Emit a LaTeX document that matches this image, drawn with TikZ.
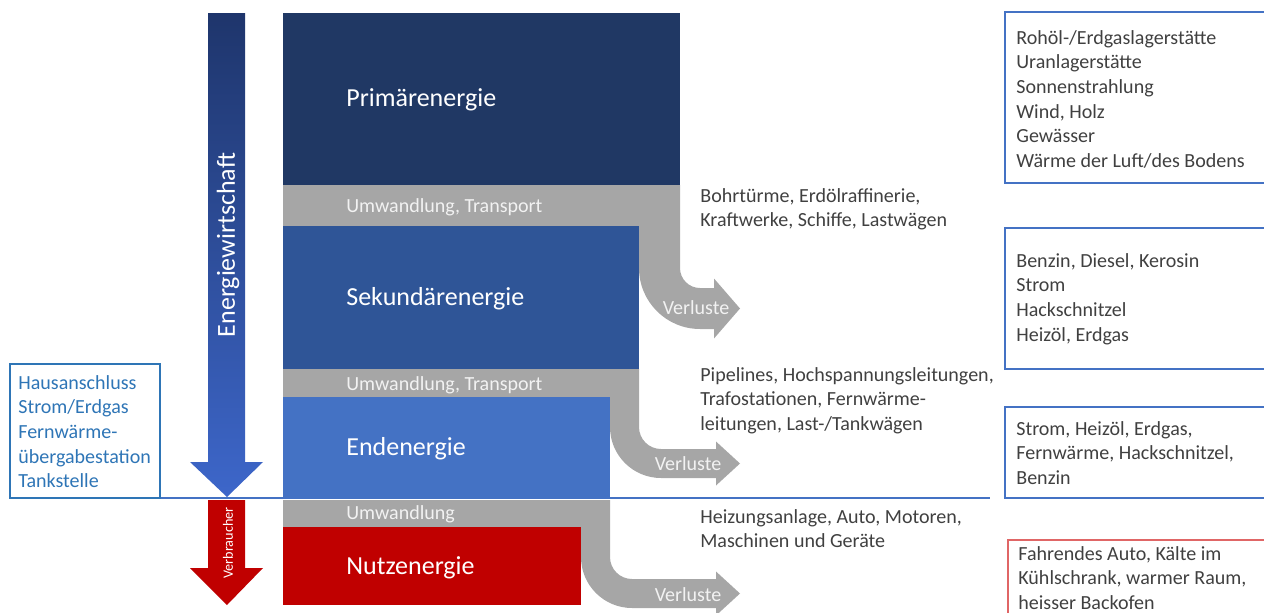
\documentclass[tikz,border=0pt]{standalone}
\usepackage{fontspec}
\setmainfont{Carlito}
\definecolor{primcol}{HTML}{203864}
\definecolor{sekcol}{HTML}{2F5597}
\definecolor{endcol}{HTML}{4472C4}
\definecolor{nutzcol}{HTML}{C00000}
\definecolor{bandgray}{HTML}{A6A6A6}
\definecolor{bandtxt}{HTML}{F2F2F2}
\definecolor{infotxt}{HTML}{404040}
\definecolor{hausblue}{HTML}{2E75B6}
\definecolor{boxred}{HTML}{E06666}
\begin{document}
\begin{tikzpicture}[x=0.02cm,y=-0.02cm,
    title/.style={anchor=west,inner sep=0pt,text=white,font=\fontsize{14.8}{17}\selectfont},
    bandlabel/.style={anchor=west,inner sep=0pt,text=bandtxt,font=\fontsize{11.4}{14}\selectfont},
    info/.style={anchor=north west,inner sep=0pt,align=left,text=infotxt,font=\fontsize{11.4}{14}\selectfont}]
    \clip (0,0) rectangle (1264,612);
    % Energiestufen
    \fill[primcol] (283,13) rectangle (680,185);
    \fill[sekcol] (283,226) rectangle (639,369);
    \fill[endcol] (283,397) rectangle (610,499);
    \fill[nutzcol] (283,527) rectangle (581,605);
    \fill[bandgray] (283,185) rectangle (680,226);
    \fill[bandgray] (283,369) rectangle (639,397);
    \fill[bandgray] (283,500) rectangle (610,527);
    \foreach \a/\b/\ya/\yb/\r/\hx/\hh in {639/680/185/268/20/714/30, 610/639/369/427/22/716/22, 581/610/500/557/22/716/22}{
        \pgfmathsetmacro\w{\b-\a}
        \pgfmathsetmacro\cx{\b+\r}
        \pgfmathsetmacro\yt{\yb+\r}
        \pgfmathsetmacro\ybot{\yt+\w}
        \pgfmathsetmacro\hc{\yt+\w/2}
        \pgfmathsetmacro\ro{\r+\w}
        \fill[bandgray] (\a,\ya) -- (\b,\ya) -- (\b,\yb) arc[start angle=180,end angle=90,radius=\r] -- (\hx,\yt) -- (\hx,\hc-\hh) -- (740,\hc) -- (\hx,\hc+\hh) -- (\hx,\ybot) -- (\cx,\ybot) arc[start angle=90,end angle=180,radius=\ro] -- cycle;
    }
    \node[title] (prim) at (346,100) {Primärenergie};
    \node[title] (sek) at (346,299) {Sekundärenergie};
    \node[title] (end) at (346,449) {Endenergie};
    \node[title] (nutz) at (346,568) {Nutzenergie};
    \node[bandlabel] (umw1) at (346,207) {Umwandlung, Transport};
    \node[bandlabel] (umw2) at (346,385) {Umwandlung, Transport};
    \node[bandlabel] (umw3) at (346,514) {Umwandlung};
    \foreach \x/\y/\n in {696/308/1, 688/464/2, 688/595/3} \node[bandlabel,anchor=center] (verl\n) at (\x,\y) {Verluste};
    % Pfeile links
    \shade[top color=primcol!95!blue,bottom color=endcol!90!blue] (208,13) -- (245,13) -- (245,462) -- (263,462) -- (227,497) -- (190,462) -- (208,462) -- cycle;
    \fill[nutzcol] (208,500) -- (245,500) -- (245,568) -- (263,568) -- (227,605) -- (190,568) -- (208,568) -- cycle;
    \node[rotate=90,text=white,font=\fontsize{14.8}{17}\selectfont] (ew) at (228,245) {Energiewirtschaft};
    \node[rotate=90,text=white,font=\fontsize{8.1}{10}\selectfont] (vb) at (228,543) {Verbraucher};
    \draw[endcol,line width=1.1pt] (160,498) -- (990,498);
    \draw[hausblue,line width=1.1pt] (10,364) rectangle (160,498);
    \node[info,text=hausblue] (haus) at (18,375) {Hausanschluss\\Strom/Erdgas\\Fernwärme-\\übergabestation\\Tankstelle};
    % Anlagen
    \node[info] (anl1) at (700,188) {Bohrtürme, Erdölraffinerie,\\Kraftwerke, Schiffe, Lastwägen};
    \node[info] (anl2) at (700,367) {Pipelines, Hochspannungsleitungen,\\Trafostationen, Fernwärme-\\leitungen, Last-/Tankwägen};
    \node[info] (anl3) at (700,509) {Heizungsanlage, Auto, Motoren,\\Maschinen und Geräte};
    % Beispiele
    \draw[endcol,line width=0.6pt] (1005,12) rectangle (1275,183);
    \draw[endcol,line width=0.6pt] (1005,228) rectangle (1275,369);
    \draw[endcol,line width=0.6pt] (1005,407) rectangle (1275,498);
    \draw[boxred,line width=0.6pt] (1008,540) rectangle (1275,620);
    \node[info] (bsp1) at (1016,30) {Rohöl-/Erdgaslagerstätte\\Uranlagerstätte\\Sonnenstrahlung\\Wind, Holz\\Gewässer\\Wärme der Luft/des Bodens};
    \node[info] (bsp2) at (1016,253) {Benzin, Diesel, Kerosin\\Strom\\Hackschnitzel\\Heizöl, Erdgas};
    \node[info] (bsp3) at (1016,421) {Strom, Heizöl, Erdgas,\\Fernwärme, Hackschnitzel,\\Benzin};
    \node[info] (bsp4) at (1018,546) {Fahrendes Auto, Kälte im\\Kühlschrank, warmer Raum,\\heisser Backofen};
\end{tikzpicture}
\end{document}
